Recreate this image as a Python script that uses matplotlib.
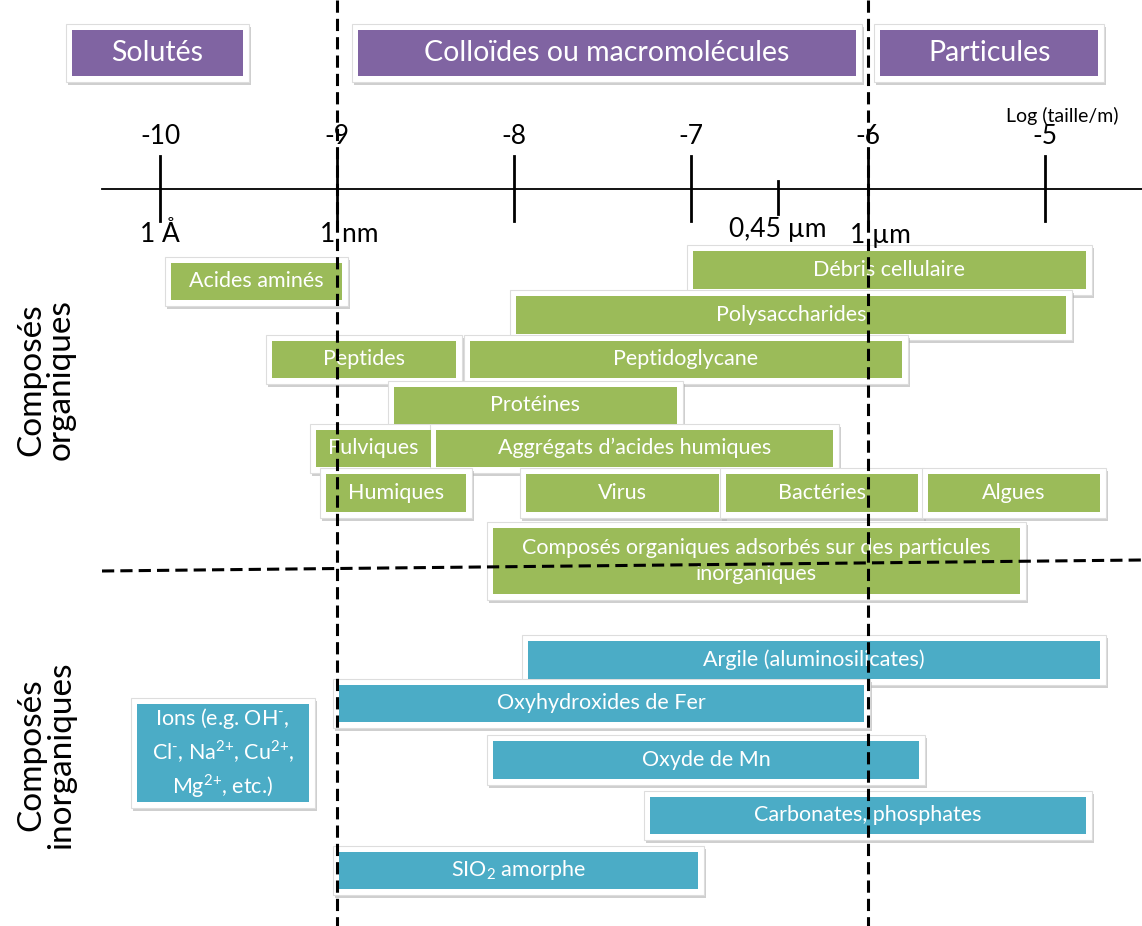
import matplotlib
matplotlib.use("Agg")
import matplotlib.pyplot as plt
from matplotlib.patches import Rectangle

plt.rcParams['font.family'] = ['Lato', 'DejaVu Sans']
plt.rcParams['mathtext.fontset'] = 'custom'
plt.rcParams['mathtext.rm'] = 'Lato'

PURPLE = '#8064A2'
GREEN = '#9BBB59'
TEAL = '#4BACC6'

# log10(size / m)
axis_ticks = [-10, -9, -8, -7, -6, -5]
tick_units = ['1 Å', '1 nm', '', '', '1 µm', '']
filter_tick = -6.51
filter_label = '0,45 µm'

header_names = ['Solutés', 'Colloïdes ou macromolécules', 'Particules']
header_start = [-10.50, -8.88, -5.93]
header_end = [-9.53, -6.07, -4.70]

org_names = ['Acides aminés', 'Débris cellulaire', 'Polysaccharides', 'Peptides',
             'Peptidoglycane', 'Protéines', 'Fulviques', 'Aggrégats d’acides humiques',
             'Humiques', 'Virus', 'Bactéries', 'Algues',
             'Composés organiques adsorbés sur des particules\ninorganiques']
org_start = [-9.94, -6.99, -7.99, -9.37, -8.25, -8.68, -9.12, -8.44,
             -9.06, -7.93, -6.80, -5.66, -8.12]
org_end = [-8.97, -4.77, -4.88, -8.33, -5.81, -7.08, -8.47, -6.20,
           -8.27, -6.84, -5.72, -4.69, -5.14]

inorg_names = ['Argile (aluminosilicates)', 'Oxyhydroxides de Fer',
               'Ions (e.g. OH$^{\\text{-}}$,\nCl$^{\\text{-}}$, Na$^{\\text{2+}}$, Cu$^{\\text{2+}}$,\n'
               'Mg$^{\\text{2+}}$, etc.)',
               'Oxyde de Mn', 'Carbonates, phosphates', 'SIO$_{\\text{2}}$ amorphe']
inorg_start = [-7.92, -8.99, -10.13, -8.12, -7.23, -8.99]
inorg_end = [-4.69, -6.02, -9.16, -5.71, -4.77, -6.96]

# layout (vertical position in px from top, box height in px)
org_rows = [281, 270, 315, 359, 359, 405, 448, 448, 493, 493, 493, 493, 561]
org_heights = [37, 38, 38, 37, 37, 37, 37, 37, 38, 38, 38, 38, 66]
inorg_rows = [660, 703, 753, 760, 815, 870]
inorg_heights = [38, 37, 98, 38, 37, 37]

PX = 177.0  # px per decade
X0 = -10 - 160 / PX
X1 = -10 + (1142 - 160) / PX

fig = plt.figure(figsize=(11.42, 9.26), dpi=100)
ax = fig.add_axes([0, 0, 1, 1])
ax.set_xlim(X0, X1)
ax.set_ylim(926, 0)
ax.axis('off')


def box(x0, x1, yc, h, color, label, size=15.5):
    pad = 6
    # shadow
    ax.add_patch(Rectangle((x0 - pad / PX + 2 / PX, yc - h / 2 - pad + 3), x1 - x0 + 2 * pad / PX,
                           h + 2 * pad, facecolor='#b0b0b0', edgecolor='none', alpha=0.6, zorder=2))
    ax.add_patch(Rectangle((x0 - pad / PX, yc - h / 2 - pad), x1 - x0 + 2 * pad / PX, h + 2 * pad,
                           facecolor='white', edgecolor='#dddddd', lw=0.8, zorder=2))
    ax.add_patch(Rectangle((x0, yc - h / 2), x1 - x0, h, facecolor=color, edgecolor='none', zorder=3))
    ax.text((x0 + x1) / 2, yc, label, color='white', fontsize=size, ha='center', va='center',
            zorder=4, linespacing=1.35)


for n, s, e in zip(header_names, header_start, header_end):
    box(s, e, 53, 46, PURPLE, n, size=20.5)

for n, s, e, y, h in zip(org_names, org_start, org_end, org_rows, org_heights):
    box(s, e, y, h, GREEN, n)

for n, s, e, y, h in zip(inorg_names, inorg_start, inorg_end, inorg_rows, inorg_heights):
    box(s, e, y, h, TEAL, n)

# size axis
ax.plot([X0 + 102 / PX, X1], [189, 189], color='black', lw=1.3, zorder=5)
for t, u in zip(axis_ticks, tick_units):
    ax.plot([t, t], [156, 221], color='black', lw=2, zorder=5)
    ax.text(t, 137, str(t), fontsize=19, ha='center', va='center', zorder=5)
    if u:
        shift = 0 if t == -10 else 12 / PX
        ax.text(t + shift, 235, u, fontsize=19, ha='center', va='center', zorder=5)
ax.plot([filter_tick, filter_tick], [181, 214], color='black', lw=2, zorder=5)
ax.text(filter_tick, 229, filter_label, fontsize=19, ha='center', va='center', zorder=5)
ax.text(-4.9, 116, 'Log (taille/m)', fontsize=14, ha='center', va='center', zorder=5)

# separators
for t in [-9, -6]:
    ax.plot([t, t], [0, 926], color='black', lw=2.2, ls=(0, (4, 2)), zorder=6)
ax.plot([X0 + 102 / PX, X1], [571, 560], color='black', lw=2.2, ls=(0, (4, 2)), zorder=6)

ax.text(X0 + 46 / PX, 380, 'Composés\norganiques', fontsize=24, rotation=90,
        ha='center', va='center', linespacing=1.0)
ax.text(X0 + 46 / PX, 755, 'Composés\ninorganiques', fontsize=24, rotation=90,
        ha='center', va='center', linespacing=1.0)

fig.savefig('out.png', dpi=100)
